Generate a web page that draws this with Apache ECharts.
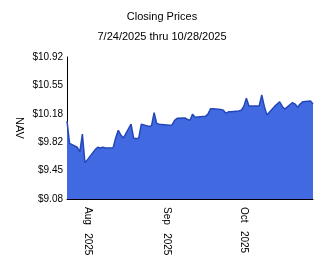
<!DOCTYPE html>
<html><head><meta charset="utf-8">
<script src="https://cdn.jsdelivr.net/npm/echarts@6/dist/echarts.min.js"></script>
<style>html,body{margin:0;padding:0;background:#fff}#c{width:324px;height:267px}</style>
</head><body><div id="c"></div>
<script>
const title = "Closing Prices";
const subtitle = "7/24/2025 thru 10/28/2025";
const yTicks = [9.08, 9.448, 9.816, 10.184, 10.552, 10.92];
const monthTicks = ["2025-08-01", "2025-09-01", "2025-10-01"];
const dates = [
 "2025-07-24","2025-07-25","2025-07-28","2025-07-29","2025-07-30","2025-07-31",
 "2025-08-01","2025-08-04","2025-08-05","2025-08-06","2025-08-07","2025-08-08",
 "2025-08-11","2025-08-12","2025-08-13","2025-08-14","2025-08-15",
 "2025-08-18","2025-08-19","2025-08-20","2025-08-21","2025-08-22",
 "2025-08-25","2025-08-26","2025-08-27","2025-08-28","2025-08-29",
 "2025-09-02","2025-09-03","2025-09-04","2025-09-05",
 "2025-09-08","2025-09-09","2025-09-10","2025-09-11","2025-09-12",
 "2025-09-15","2025-09-16","2025-09-17","2025-09-18","2025-09-19",
 "2025-09-22","2025-09-23","2025-09-24","2025-09-25","2025-09-26",
 "2025-09-29","2025-09-30","2025-10-01","2025-10-02","2025-10-03",
 "2025-10-06","2025-10-07","2025-10-08","2025-10-09","2025-10-10",
 "2025-10-13","2025-10-14","2025-10-15","2025-10-16","2025-10-17",
 "2025-10-20","2025-10-21","2025-10-22","2025-10-23","2025-10-24",
 "2025-10-27","2025-10-28"];
const nav = [
 10.09, 9.80, 9.75, 9.69, 9.92, 9.55,
 9.59, 9.72, 9.75, 9.74, 9.75, 9.74,
 9.745, 9.87, 9.97, 9.91, 9.87,
 10.05, 9.87, 9.86, 9.87, 10.05,
 10.02, 10.03, 10.20, 10.06, 10.05,
 10.035, 10.04, 10.10, 10.125,
 10.13, 10.11, 10.10, 10.18, 10.14,
 10.15, 10.15, 10.18, 10.25, 10.25,
 10.24, 10.23, 10.19, 10.21, 10.21,
 10.22, 10.23, 10.28, 10.385, 10.285,
 10.285, 10.285, 10.43, 10.28, 10.17,
 10.28, 10.31, 10.34, 10.28, 10.245,
 10.33, 10.31, 10.27, 10.31, 10.34,
 10.35, 10.31];

const MON = ["Jan","Feb","Mar","Apr","May","Jun","Jul","Aug","Sep","Oct","Nov","Dec"];
const ts = s => { const p = s.split("-").map(Number); return Date.UTC(p[0], p[1]-1, p[2]); };
const chart = echarts.init(document.getElementById('c'), null, {renderer:'canvas'});
const font = "'Liberation Sans', Arial, sans-serif";
chart.setOption({
  animation:false,
  title:[
    {text:title, left:'center', top:6, textStyle:{fontFamily:font, fontSize:11, fontWeight:'normal', color:'#000'}},
    {text:subtitle, left:'center', top:26, textStyle:{fontFamily:font, fontSize:11, fontWeight:'normal', color:'#000'}}
  ],
  grid:{left:67, right:11, top:57, bottom:68, containLabel:false},
  xAxis:{
    type:'value',
    min:ts(dates[0]), max:ts(dates[dates.length-1]),
    axisLine:{show:true, onZero:false, lineStyle:{color:'#000', width:1}},
    axisTick:{show:false},
    splitLine:{show:false},
    axisLabel:{
      customValues: monthTicks.map(ts),
      rotate:-90, margin:8, fontFamily:font, fontSize:10, color:'#000',
      formatter: v => { const d = new Date(v); return MON[d.getUTCMonth()] + "   " + d.getUTCFullYear(); }
    }
  },
  yAxis:{
    type:'value', min:yTicks[0], max:yTicks[yTicks.length-1],
    name:'NAV', nameLocation:'middle', nameRotate:-90, nameGap:42, nameMoveOverlap:false,
    nameTextStyle:{fontFamily:font, fontSize:11, color:'#000'},
    axisLine:{show:true, lineStyle:{color:'#000', width:1}},
    axisTick:{show:false},
    splitLine:{show:false},
    axisLabel:{
      customValues: yTicks, margin:4, fontFamily:font, fontSize:10, color:'#000',
      formatter: v => '$' + v.toFixed(2)
    }
  },
  series:[{
    type:'line', showSymbol:false, symbol:'none',
    data: dates.map((d,i)=>[ts(d), nav[i]]),
    lineStyle:{color:'#2448b8', width:1.5},
    areaStyle:{color:'#4169e1', opacity:1, origin:'start'},
    z:1
  }]
});
</script></body></html>
